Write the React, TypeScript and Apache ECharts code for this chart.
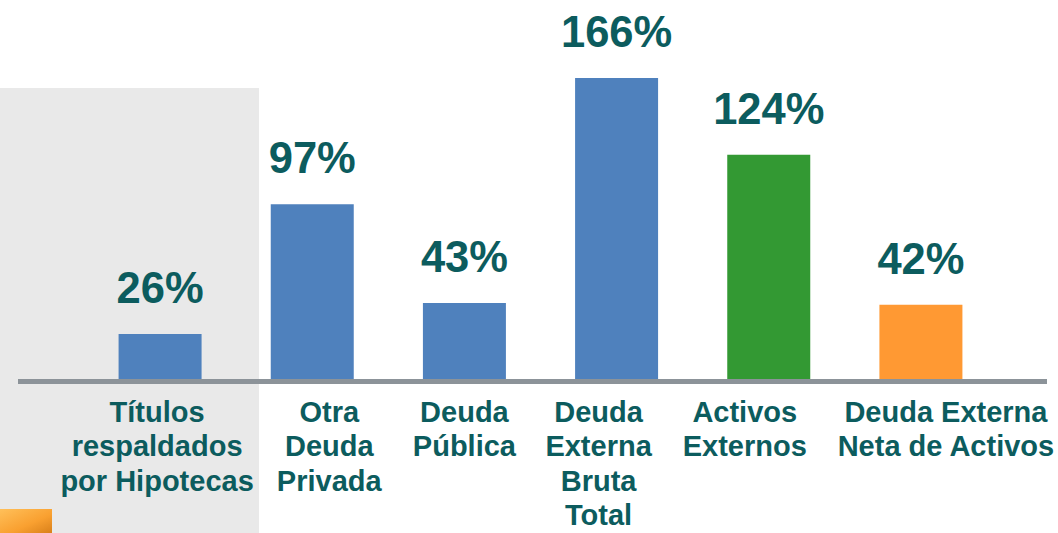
import React, { useEffect, useRef } from "react";
import * as echarts from "echarts";

const categories: string[] = [
  "Títulos\nrespaldados\npor Hipotecas",
  "Otra\nDeuda\nPrivada",
  "Deuda\nPública",
  "Deuda\nExterna\nBruta\nTotal",
  "Activos\nExternos",
  "Deuda Externa\nNeta de Activos",
];
const values: number[] = [26, 97, 43, 166, 124, 42];
const barColors: string[] = ["#4F81BD", "#4F81BD", "#4F81BD", "#4F81BD", "#339933", "#FF9933"];
// horizontal nudges (px) of the category labels relative to their band centres
const labelShift: number[] = [-3, 17, 0, -18, -24, 25];

const TEXT = "#0C5C5E";
const FONT = "Liberation Sans, Arial, sans-serif";

export default function App() {
  const ref = useRef<HTMLDivElement>(null);
  useEffect(() => {
    if (!ref.current) return;
    const chart = echarts.init(ref.current, null, { renderer: "svg" });
    const axisData = categories.map((c, i) => {
      const s = labelShift[i];
      return {
        value: c,
        textStyle: { padding: s >= 0 ? [0, 0, 0, 2 * s] : [0, -2 * s, 0, 0] },
      };
    });
    chart.setOption({
      animation: false,
      backgroundColor: "#FFFFFF",
      grid: { left: 84, right: 61, top: 78, bottom: 151.5, containLabel: false },
      xAxis: {
        type: "category",
        data: axisData,
        axisLine: { show: false },
        axisTick: { show: false },
        axisLabel: {
          interval: 0,
          margin: 13,
          color: TEXT,
          fontFamily: FONT,
          fontWeight: "bold",
          fontSize: 29,
          lineHeight: 34.5,
          align: "center",
        },
      },
      yAxis: {
        type: "value",
        min: 0,
        max: 166,
        show: false,
        splitLine: { show: false },
      },
      graphic: [
        {
          type: "rect",
          z: -10,
          silent: true,
          shape: { x: 0, y: 88, width: 259, height: 445 },
          style: { fill: "#E9E9E9" },
        },
        {
          type: "rect",
          z: -5,
          silent: true,
          shape: { x: 0, y: 509, width: 52, height: 24 },
          style: {
            fill: new echarts.graphic.LinearGradient(0, 0, 1, 1, [
              { offset: 0, color: "#FFC05A" },
              { offset: 0.6, color: "#F9A030" },
              { offset: 1, color: "#D9801A" },
            ]),
          },
        },
        {
          type: "line",
          z: 100,
          silent: true,
          shape: { x1: 18, y1: 381.5, x2: 1047, y2: 381.5 },
          style: { stroke: "#8C9399", lineWidth: 5 },
        },
      ],
      series: [
        {
          type: "bar",
          data: values,
          barWidth: 83,
          itemStyle: {
            color: (p: any) => barColors[p.dataIndex],
          },
          label: {
            show: true,
            position: "top",
            distance: 24,
            formatter: "{c}%",
            color: TEXT,
            fontFamily: FONT,
            fontWeight: "bold",
            fontSize: 43.5,
          },
        },
      ],
    });
    return () => chart.dispose();
  }, []);
  return (
    <div
      ref={ref}
      style={{ position: "fixed", left: 0, top: 0, width: 1058, height: 533 }}
    />
  );
}
